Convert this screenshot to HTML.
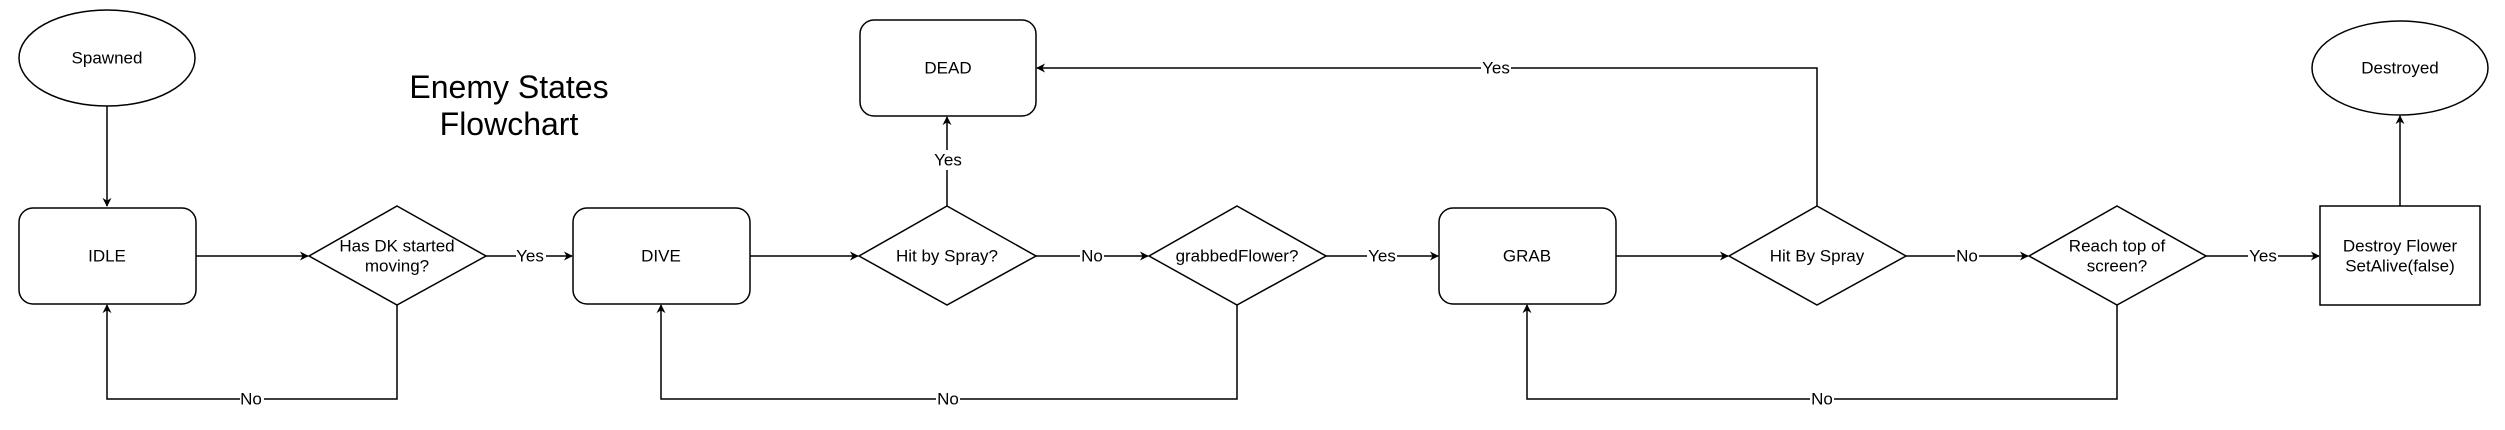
<!DOCTYPE html>
<html><head><meta charset="utf-8"><style>
html,body{margin:0;padding:0;background:#fff;}
svg{display:block;}
text{font-family:"Liberation Sans",sans-serif;fill:#000;}
</style></head><body>
<svg width="2505" height="430" viewBox="0 0 2505 430" xmlns="http://www.w3.org/2000/svg">
<defs>
<marker id="a" viewBox="0 0 10 10" refX="9" refY="5" markerWidth="9" markerHeight="9" markerUnits="userSpaceOnUse" orient="auto">
<path d="M0,0 L10,5 L0,10 L3,5 z" fill="#000"/>
</marker>
</defs>
<g fill="#fff" stroke="#000" stroke-width="1.5">
<ellipse cx="107" cy="58" rx="88" ry="48"/>
<rect x="19" y="208" width="177" height="96" rx="14"/>
<polygon points="397,206 486,256 397,305 309,256"/>
<rect x="573" y="208" width="177" height="96" rx="14"/>
<rect x="860" y="20" width="176" height="96" rx="14"/>
<polygon points="947,206 1036,256 947,305 859,256"/>
<polygon points="1237,206 1326,256 1237,305 1149,256"/>
<rect x="1439" y="208" width="177" height="96" rx="14"/>
<polygon points="1817,206 1906,256 1817,305 1729,256"/>
<polygon points="2117,206 2206,256 2117,305 2029,256"/>
<rect x="2320" y="206" width="160" height="99"/>
<ellipse cx="2400" cy="68" rx="88" ry="47"/>
</g>
<g fill="none" stroke="#000" stroke-width="1.5">
<path d="M107,106 V206" marker-end="url(#a)"/>
<path d="M196,256 H308" marker-end="url(#a)"/>
<path d="M486,256 H572" marker-end="url(#a)"/>
<path d="M397,305 V399 H107 V305" marker-end="url(#a)"/>
<path d="M750,256 H858" marker-end="url(#a)"/>
<path d="M947,206 V117" marker-end="url(#a)"/>
<path d="M1036,256 H1148" marker-end="url(#a)"/>
<path d="M1326,256 H1438" marker-end="url(#a)"/>
<path d="M1237,305 V399 H661 V305" marker-end="url(#a)"/>
<path d="M1616,256 H1728" marker-end="url(#a)"/>
<path d="M1817,206 V68 H1037" marker-end="url(#a)"/>
<path d="M1906,256 H2028" marker-end="url(#a)"/>
<path d="M2206,256 H2319" marker-end="url(#a)"/>
<path d="M2117,305 V399 H1527 V305" marker-end="url(#a)"/>
<path d="M2400,206 V116" marker-end="url(#a)"/>
</g>
<g font-size="17" text-anchor="middle" dominant-baseline="central">
<text x="107" y="58">Spawned</text>
<text x="107" y="256">IDLE</text>
<text x="397" y="246">Has DK started</text>
<text x="397" y="266">moving?</text>
<text x="661" y="256">DIVE</text>
<text x="948" y="68">DEAD</text>
<text x="947" y="256">Hit by Spray?</text>
<text x="1237" y="256">grabbedFlower?</text>
<text x="1527" y="256">GRAB</text>
<text x="1817" y="256">Hit By Spray</text>
<text x="2117" y="246">Reach top of</text>
<text x="2117" y="266">screen?</text>
<text x="2400" y="246">Destroy Flower</text>
<text x="2400" y="266">SetAlive(false)</text>
<text x="2400" y="68">Destroyed</text>
</g>
<g font-size="17" text-anchor="middle" dominant-baseline="central">
<rect x="516" y="246" width="30" height="20" fill="#fff"/><text x="530" y="256">Yes</text>
<rect x="240" y="389" width="24" height="20" fill="#fff"/><text x="251" y="399">No</text>
<rect x="933" y="150" width="30" height="20" fill="#fff"/><text x="948" y="160">Yes</text>
<rect x="1080" y="246" width="24" height="20" fill="#fff"/><text x="1092" y="256">No</text>
<rect x="1367" y="246" width="30" height="20" fill="#fff"/><text x="1382" y="256">Yes</text>
<rect x="936" y="389" width="24" height="20" fill="#fff"/><text x="948" y="399">No</text>
<rect x="1481" y="58" width="30" height="20" fill="#fff"/><text x="1496" y="68">Yes</text>
<rect x="1955" y="246" width="24" height="20" fill="#fff"/><text x="1967" y="256">No</text>
<rect x="2248" y="246" width="30" height="20" fill="#fff"/><text x="2263" y="256">Yes</text>
<rect x="1810" y="389" width="24" height="20" fill="#fff"/><text x="1822" y="399">No</text>
</g>
<g font-size="32" text-anchor="middle">
<text x="509" y="98">Enemy States</text>
<text x="509" y="135">Flowchart</text>
</g>
</svg>
</body></html>
